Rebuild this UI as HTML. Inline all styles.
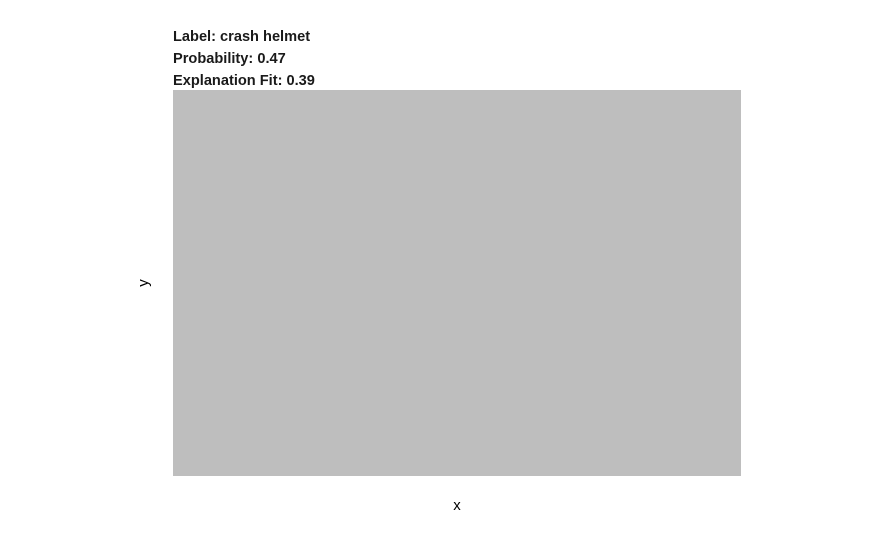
<!DOCTYPE html>
<html><head><meta charset="utf-8"><style>
body{margin:0;background:#fff;width:875px;height:540px;overflow:hidden;font-family:"Liberation Sans",sans-serif;}
</style></head><body>
<svg width="875" height="540">
<rect x="0" y="0" width="875" height="540" fill="#fff"/>
<text x="173" y="41" font-size="14.6" font-weight="bold" fill="#1a1a1a">Label: crash helmet</text>
<text x="173" y="63" font-size="14.6" font-weight="bold" fill="#1a1a1a">Probability: 0.47</text>
<text x="173" y="85" font-size="14.6" font-weight="bold" fill="#1a1a1a">Explanation Fit: 0.39</text>
<rect x="173" y="90" width="568" height="386" fill="#bebebe"/>
<text x="457" y="510" font-size="15" text-anchor="middle" fill="#000">x</text>
<text transform="translate(148,283) rotate(-90)" font-size="15" text-anchor="middle" fill="#000">y</text>
</svg>
</body></html>
